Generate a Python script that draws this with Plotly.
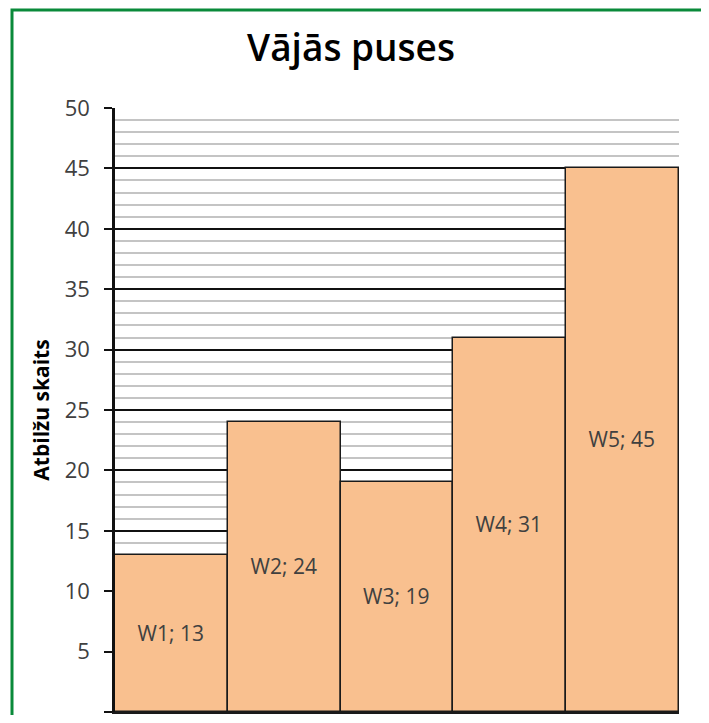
import plotly.graph_objects as go

categories = ["W1", "W2", "W3", "W4", "W5"]
values = [13, 24, 19, 31, 45]
title_text = "Vājās puses"
y_title = "Atbilžu skaits"

W, H = 701, 707
OFF = 8  # page body margin
L, R, T, B = 107, 30, 100, 3
pw, ph = W - L - R, H - T - B

def px_x(x):
    return (x - OFF - L) / pw

def px_y(y):
    return (H - B - (y - OFF)) / ph

fig = go.Figure(go.Bar(
    x=categories, y=values,
    marker=dict(color="#F9C08F", line=dict(color="#1a1a1a", width=1.5)),
    texttemplate="%{x}; %{y}",
    textposition="inside", insidetextanchor="middle", textangle=0,
    textfont=dict(family="Open Sans", size=21, color="#404040"),
    hoverinfo="skip",
))

fig.update_layout(
    width=W, height=H,
    margin=dict(l=L, r=R, t=T, b=B, autoexpand=False),
    paper_bgcolor="white", plot_bgcolor="white",
    bargap=0, showlegend=False,
    title=dict(text=title_text, x=(351 - OFF) / W, xanchor="center", y=1 - (48 - OFF) / H, yanchor="middle",
               font=dict(family="Open Sans", size=37, color="black", weight=600)),
    font=dict(family="Open Sans", color="#404040"),
    shapes=[dict(type="rect", xref="paper", yref="paper",
                 x0=px_x(12), x1=px_x(706), y0=px_y(760), y1=px_y(10),
                 line=dict(color="#0A8A3A", width=3), layer="above")],
)

fig.update_xaxes(showticklabels=False, showgrid=False, zeroline=False, automargin=False,
                 showline=True, linecolor="#1a1a1a", linewidth=2, ticks="")
fig.update_yaxes(range=[0, 50], dtick=5, tick0=0, automargin=False,
                 showgrid=True, gridcolor="#111111", gridwidth=2,
                 minor=dict(dtick=1, showgrid=True, gridcolor="#c4c4c4", gridwidth=2),
                 zeroline=False, showline=True, linecolor="#111111", linewidth=2.5,
                 ticks="outside", ticklen=8, tickwidth=2, tickcolor="#111111",
                 ticklabelstandoff=10,
                 tickfont=dict(family="Open Sans", size=22, color="#404040"),
                 title=dict(text=y_title, standoff=10,
                            font=dict(family="Open Sans", size=21, color="black", weight="bold")))

fig.write_html("out.html")
